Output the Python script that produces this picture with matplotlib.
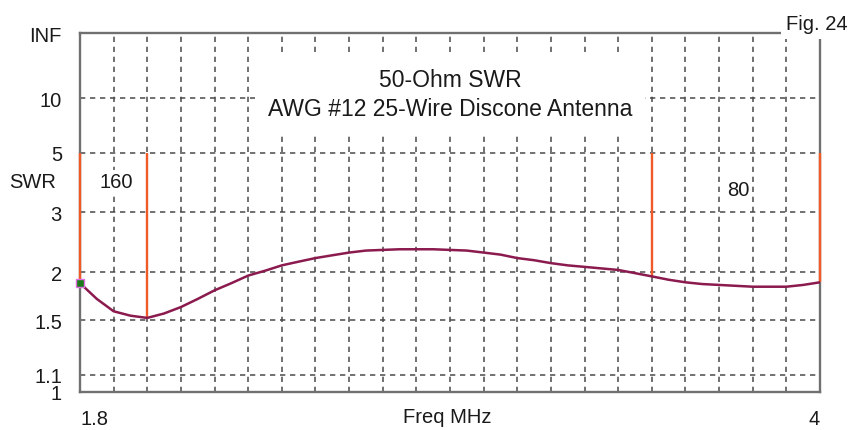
import numpy as np
import matplotlib
matplotlib.use("Agg")
import matplotlib.pyplot as plt

plt.rcParams['font.family'] = ['Liberation Sans', 'DejaVu Sans']
plt.rcParams['lines.scale_dashes'] = False

# data
freq = [1.80, 1.85, 1.90, 1.95, 2.00, 2.05, 2.10, 2.15, 2.20, 2.25,
        2.30, 2.35, 2.40, 2.45, 2.50, 2.55, 2.60, 2.65, 2.70, 2.75,
        2.80, 2.85, 2.90, 2.95, 3.00, 3.05, 3.10, 3.15, 3.20, 3.25,
        3.30, 3.35, 3.40, 3.45, 3.50, 3.55, 3.60, 3.65, 3.70, 3.75,
        3.80, 3.85, 3.90, 3.95, 4.00]
swr = [1.87, 1.70, 1.58, 1.54, 1.52, 1.56, 1.62, 1.70, 1.79, 1.87,
       1.96, 2.02, 2.09, 2.14, 2.19, 2.23, 2.27, 2.30, 2.31, 2.32,
       2.32, 2.32, 2.31, 2.30, 2.27, 2.24, 2.19, 2.16, 2.12, 2.09,
       2.07, 2.05, 2.03, 1.99, 1.95, 1.91, 1.88, 1.86, 1.85, 1.84,
       1.83, 1.83, 1.83, 1.85, 1.88]

# band edges (MHz) and the SWR of the curve there
band_edges = [1.8, 2.0, 3.5, 4.0]
band_swr = [1.87, 1.52, 1.95, 1.88]
band_top = 5

y_ticks = [1, 1.1, 1.5, 2, 3, 5, 10, 1e9]
y_labels = ['1', '1.1', '1.5', '2', '3', '5', '10', 'INF']
x_ticks = [1.8 + 0.1 * i for i in range(23)]
x_labels = ['1.8'] + [''] * 21 + ['4']


# SWR axis is linear in reflection coefficient
def fwd(s):
    s = np.asarray(s, dtype=float)
    return (s - 1) / (s + 1)


def inv(r):
    r = np.asarray(r, dtype=float)
    return (1 + r) / np.clip(1 - r, 1e-12, None)


fig = plt.figure(figsize=(8.6, 4.31), dpi=100)
ax = fig.add_axes([80 / 860, 38 / 431, 740 / 860, 359 / 431])

ax.set_yscale('function', functions=(fwd, inv))
ax.set_xlim(1.8, 4.0)
ax.set_ylim(1, 1e9)

ax.set_yticks(y_ticks)
ax.set_yticklabels(y_labels)
ax.set_xticks(x_ticks)
ax.set_xticklabels(x_labels)
ax.minorticks_off()
ax.tick_params(length=0, labelsize=14.5, colors='#1a1a1a')
ax.tick_params(axis='y', pad=13)
ax.tick_params(axis='x', pad=12)
xl = ax.get_xticklabels()
xl[0].set_ha('left')
xl[-1].set_ha('right')

ax.grid(True, color='#4a4a4a', linestyle=(0, (3.8, 3.4)), linewidth=1.1)
ax.set_axisbelow(True)

for s in ax.spines.values():
    s.set_color('#707070')
    s.set_linewidth(1.7)

# band markers
ax.vlines(band_edges, band_swr, band_top, color='#f05a28', linewidth=1.7,
          zorder=3, clip_on=False)

ax.plot(freq, swr, color='#8b1a4e', linewidth=1.8, zorder=4)
ax.plot(freq[0], swr[0], 's', color='#1a7a1a', markeredgecolor='#e070e0',
        markersize=6, zorder=5, clip_on=False)

ax.text(0.5, 0.83, '50-Ohm SWR\nAWG #12 25-Wire Discone Antenna',
        transform=ax.transAxes, ha='center', va='center', fontsize=16.5,
        color='#1a1a1a', linespacing=1.3, zorder=6,
        bbox=dict(facecolor='white', edgecolor='none', pad=9))
ax.text(0.0486, 0.585, '160', transform=ax.transAxes, ha='center', va='center',
        fontsize=14.5, color='#1a1a1a', zorder=6,
        bbox=dict(facecolor='white', edgecolor='none', pad=2))
ax.text(0.889, 0.565, '80', transform=ax.transAxes, ha='center', va='center',
        fontsize=14.5, color='#1a1a1a', zorder=6,
        bbox=dict(facecolor='white', edgecolor='none', pad=2))

fig.text(33 / 860, 1 - 183 / 431, 'SWR', ha='center', va='center',
         fontsize=14.5, color='#1a1a1a')
fig.text(447 / 860, 1 - 418 / 431, 'Freq MHz', ha='center', va='center',
         fontsize=14.5, color='#1a1a1a')
fig.text(848 / 860, 1 - 25 / 431, 'Fig. 24', ha='right', va='center',
         fontsize=14.5, color='#1a1a1a', zorder=10,
         bbox=dict(facecolor='white', edgecolor='none', pad=4))

fig.savefig('out.png', dpi=100, facecolor='white')
